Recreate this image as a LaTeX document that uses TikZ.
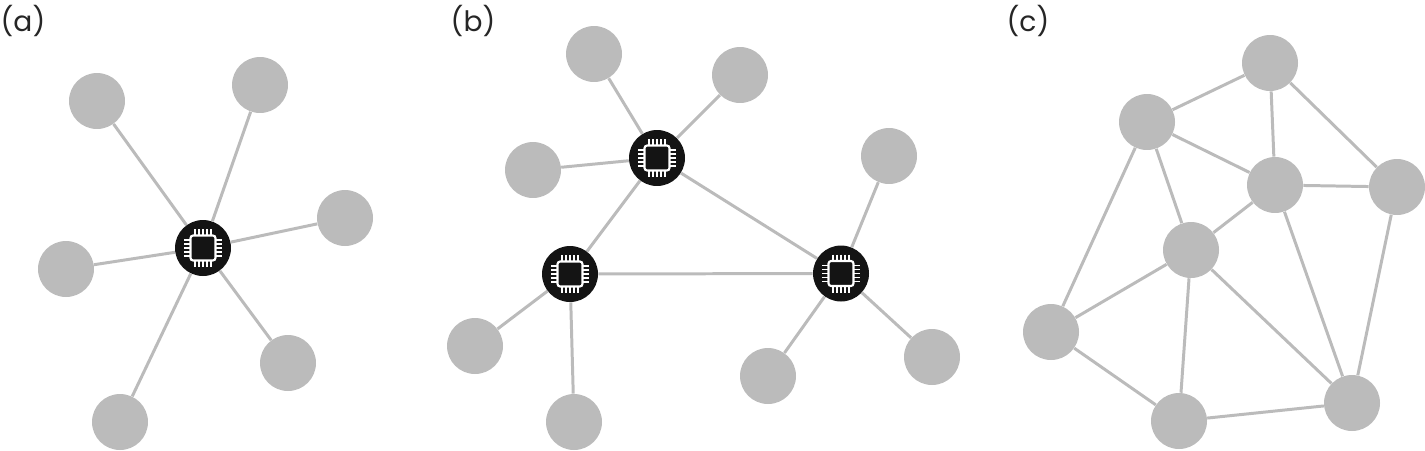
\documentclass[tikz,border=0pt]{standalone}
\usepackage{fontspec}
\setmainfont{Poppins}
\usetikzlibrary{positioning}
\definecolor{leafgray}{HTML}{BBBBBB}
\definecolor{hubblack}{HTML}{141414}
\tikzset{
    leaf/.style={circle, fill=leafgray, inner sep=0pt, minimum size=1.12cm},
    hub/.style={circle, fill=hubblack, inner sep=0pt, minimum size=1.12cm},
    link/.style={draw=leafgray, line width=1.7pt},
    panel/.style={inner sep=0pt, font=\fontsize{16}{16}\selectfont, text=black!85},
    chip/.pic={
        \foreach \k in {-8,-4,0,4,8} {
            \draw [white, line width=0.6pt] (\k,-19) -- (\k,19);
            \draw [white, line width=0.6pt] (-19,\k) -- (19,\k);
        }
        \draw [white, fill=hubblack, line width=1.2pt, rounded corners=1.5pt] (-12.5,-12.5) rectangle (12.5,12.5);
    }
}
\begin{document}
\begin{tikzpicture}[x=0.02cm, y=-0.02cm]
    \useasboundingbox (0,0) rectangle (1425,450);

    % Labels of the three panels
    \node [panel] (labelA) at (23,21) {(a)};
    \node [panel] (labelB) at (473,21) {(b)};
    \node [panel] (labelC) at (1028,21) {(c)};

    % Panel (a), one hub
    \node [hub] (hubA) at (203,248) {};
    \node [leaf] (a1) at (97,101) {};
    \node [leaf] (a2) at (260,85) {};
    \node [leaf] (a3) at (345,218) {};
    \node [leaf] (a4) at (66,269) {};
    \node [leaf] (a5) at (288,363) {};
    \node [leaf] (a6) at (120,422) {};

    \draw [link] (hubA) -- (a1);
    \draw [link] (hubA) -- (a2);
    \draw [link] (hubA) -- (a3);
    \draw [link] (hubA) -- (a4);
    \draw [link] (hubA) -- (a5);
    \draw [link] (hubA) -- (a6);

    % Panel (b), three hubs
    \node [hub] (hubB1) at (657,158) {};
    \node [hub] (hubB2) at (570,274) {};
    \node [hub] (hubB3) at (841,273.5) {};
    \node [leaf] (b1) at (594,54) {};
    \node [leaf] (b2) at (740,75) {};
    \node [leaf] (b3) at (533,170) {};
    \node [leaf] (b4) at (889,156) {};
    \node [leaf] (b5) at (475,346) {};
    \node [leaf] (b6) at (574,422) {};
    \node [leaf] (b7) at (768,376) {};
    \node [leaf] (b8) at (932,357) {};

    \draw [link] (hubB1) -- (hubB2);
    \draw [link] (hubB1) -- (hubB3);
    \draw [link] (hubB2) -- (hubB3);
    \draw [link] (hubB1) -- (b1);
    \draw [link] (hubB1) -- (b2);
    \draw [link] (hubB1) -- (b3);
    \draw [link] (hubB2) -- (b5);
    \draw [link] (hubB2) -- (b6);
    \draw [link] (hubB3) -- (b4);
    \draw [link] (hubB3) -- (b7);
    \draw [link] (hubB3) -- (b8);

    % Panel (c), no hub at all
    \node [leaf] (c1) at (1270,63) {};
    \node [leaf] (c2) at (1147,122) {};
    \node [leaf] (c3) at (1275,185) {};
    \node [leaf] (c4) at (1397,187) {};
    \node [leaf] (c5) at (1191,250) {};
    \node [leaf] (c6) at (1051,332) {};
    \node [leaf] (c7) at (1352,403) {};
    \node [leaf] (c8) at (1179,421) {};

    \draw [link] (c1) -- (c2);
    \draw [link] (c1) -- (c3);
    \draw [link] (c1) -- (c4);
    \draw [link] (c2) -- (c3);
    \draw [link] (c2) -- (c5);
    \draw [link] (c2) -- (c6);
    \draw [link] (c3) -- (c4);
    \draw [link] (c3) -- (c5);
    \draw [link] (c3) -- (c7);
    \draw [link] (c4) -- (c7);
    \draw [link] (c5) -- (c6);
    \draw [link] (c5) -- (c7);
    \draw [link] (c5) -- (c8);
    \draw [link] (c6) -- (c8);
    \draw [link] (c7) -- (c8);

    % Chips on top of the hubs
    \pic at (hubA) {chip};
    \pic at (hubB1) {chip};
    \pic at (hubB2) {chip};
    \pic at (hubB3) {chip};
\end{tikzpicture}
\end{document}
